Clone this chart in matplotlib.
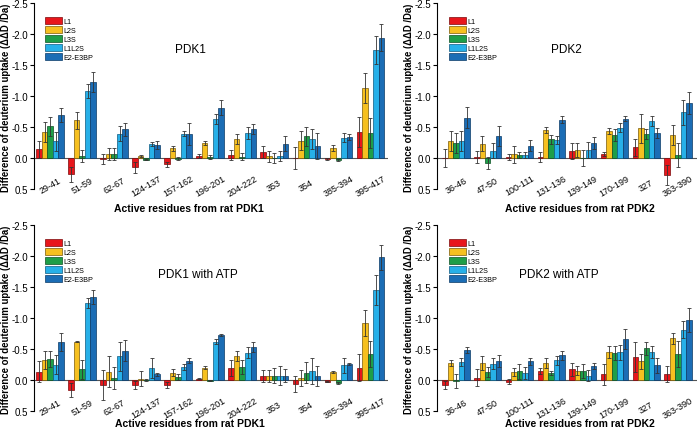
import numpy as np
import matplotlib
matplotlib.use('Agg')
import matplotlib.pyplot as plt

plt.rcParams['font.family'] = ['Liberation Sans', 'DejaVu Sans']

series = ['L1', 'L2S', 'L3S', 'L1L2S', 'E2-E3BP']
colors = ['#e8161b', '#f6c020', '#1e9e48', '#27b0e8', '#1b6db5']
edges = ['#7a0a0c', '#7a5a08', '#0d5024', '#0f5a80', '#0c3a66']

# PDK1 residues
pdk1_res = ['29-41', '51-59', '62-67', '124-137', '157-162', '196-201',
            '204-222', '353', '354', '385-394', '395-417']
# PDK2 residues
pdk2_res = ['36-46', '47-50', '100-111', '131-136', '139-149', '170-199',
            '327', '363-390']

# values (ΔΔD, Da) per series, one entry per residue group
pdk1_val = [
    [-0.14, 0.26, 0.01, 0.15, 0.10, -0.03, -0.05, -0.10, 0.00, 0.02, -0.42],
    [-0.42, -0.61, -0.06, -0.03, -0.16, -0.24, -0.30, -0.03, -0.28, -0.16, -1.13],
    [-0.51, -0.03, -0.06, 0.03, 0.01, -0.02, -0.02, 0.00, -0.35, 0.03, -0.40],
    [-0.27, -1.08, -0.39, -0.23, -0.39, -0.63, -0.40, -0.03, -0.31, -0.33, -1.74],
    [-0.69, -1.22, -0.46, -0.21, -0.39, -0.81, -0.47, -0.23, -0.19, -0.34, -1.94],
]
pdk1_err = [
    [0.14, 0.12, 0.08, 0.09, 0.04, 0.03, 0.08, 0.10, 0.17, 0.02, 0.24],
    [0.16, 0.14, 0.10, 0.02, 0.04, 0.03, 0.08, 0.09, 0.15, 0.05, 0.24],
    [0.15, 0.10, 0.10, 0.01, 0.03, 0.03, 0.06, 0.08, 0.15, 0.02, 0.24],
    [0.15, 0.11, 0.12, 0.03, 0.04, 0.08, 0.10, 0.08, 0.16, 0.07, 0.22],
    [0.11, 0.16, 0.10, 0.06, 0.18, 0.12, 0.08, 0.12, 0.21, 0.05, 0.22],
]

pdk2_val = [
    [0.00, -0.02, -0.02, -0.02, -0.11, -0.06, -0.17, 0.28],
    [-0.28, -0.23, -0.06, -0.45, -0.13, -0.44, -0.48, -0.37],
    [-0.24, 0.08, -0.05, -0.30, 0.00, -0.37, -0.39, -0.05],
    [-0.28, -0.12, -0.05, -0.29, -0.13, -0.49, -0.59, -0.74],
    [-0.65, -0.35, -0.20, -0.62, -0.24, -0.63, -0.41, -0.89],
]
pdk2_err = [
    [0.15, 0.10, 0.05, 0.08, 0.13, 0.03, 0.14, 0.16],
    [0.16, 0.12, 0.14, 0.05, 0.11, 0.05, 0.23, 0.16],
    [0.16, 0.09, 0.05, 0.07, 0.13, 0.10, 0.08, 0.20],
    [0.16, 0.12, 0.05, 0.06, 0.13, 0.07, 0.08, 0.20],
    [0.17, 0.16, 0.09, 0.06, 0.10, 0.04, 0.08, 0.18],
]

pdk1_atp_val = [
    [-0.13, 0.16, 0.08, 0.08, 0.08, -0.02, -0.20, -0.06, 0.07, 0.03, -0.20],
    [-0.32, -0.62, -0.13, -0.02, -0.12, -0.20, -0.38, -0.06, -0.03, -0.13, -0.92],
    [-0.34, -0.17, -0.03, 0.00, -0.05, 0.01, -0.21, -0.07, -0.12, 0.05, -0.42],
    [-0.25, -1.24, -0.38, -0.19, -0.21, -0.62, -0.44, -0.07, -0.14, -0.24, -1.45],
    [-0.61, -1.34, -0.47, -0.09, -0.31, -0.73, -0.53, -0.07, -0.06, -0.26, -1.98],
]
pdk1_atp_err = [
    [0.17, 0.11, 0.24, 0.07, 0.05, 0.01, 0.13, 0.10, 0.13, 0.01, 0.22],
    [0.14, 0.01, 0.25, 0.12, 0.05, 0.03, 0.08, 0.10, 0.13, 0.02, 0.21],
    [0.13, 0.15, 0.18, 0.02, 0.05, 0.01, 0.11, 0.12, 0.17, 0.01, 0.21],
    [0.15, 0.08, 0.23, 0.16, 0.05, 0.04, 0.09, 0.15, 0.21, 0.12, 0.24],
    [0.15, 0.11, 0.17, 0.03, 0.04, 0.02, 0.08, 0.10, 0.16, 0.01, 0.20],
]

pdk2_atp_val = [
    [0.08, -0.04, 0.03, -0.14, -0.17, -0.09, -0.37, -0.10],
    [-0.27, -0.27, -0.13, -0.27, -0.15, -0.45, -0.30, -0.67],
    [0.02, -0.13, -0.14, -0.11, -0.15, -0.44, -0.51, -0.42],
    [-0.29, -0.26, -0.11, -0.32, -0.07, -0.45, -0.45, -0.81],
    [-0.48, -0.31, -0.30, -0.40, -0.23, -0.66, -0.24, -0.97],
]
pdk2_atp_err = [
    [0.07, 0.13, 0.04, 0.05, 0.10, 0.17, 0.24, 0.13],
    [0.05, 0.11, 0.06, 0.08, 0.07, 0.10, 0.12, 0.09],
    [0.11, 0.08, 0.12, 0.03, 0.11, 0.11, 0.10, 0.21],
    [0.06, 0.09, 0.10, 0.07, 0.09, 0.12, 0.10, 0.14],
    [0.05, 0.10, 0.06, 0.07, 0.05, 0.16, 0.12, 0.19],
]

W, H = 697, 435
fig = plt.figure(figsize=(W / 100, H / 100), dpi=100)

panels = [
    # residues, values, errors, title, xlabel, (left, top, right, bottom) px,
    # xlim, title pos px, xlabel pos px, ylabel x px
    (pdk1_res, pdk1_val, pdk1_err, 'PDK1', 'Active residues from rat PDK1',
     (34, 4, 388, 190), (-0.5, 10.55), (190, 50), (189, 209), 6),
    (pdk2_res, pdk2_val, pdk2_err, 'PDK2', 'Active residues from rat PDK2',
     (437, 4, 697, 190), (-0.6, 7.6), (566, 50), (580, 209), 409),
    (pdk1_res, pdk1_atp_val, pdk1_atp_err, 'PDK1 with ATP', 'Active residues from rat PDK1',
     (34, 226, 388, 412), (-0.5, 10.55), (198, 275), (190, 424), 6),
    (pdk2_res, pdk2_atp_val, pdk2_atp_err, 'PDK2 with ATP', 'Active residues from rat PDK2',
     (437, 226, 697, 412), (-0.6, 7.6), (559, 275), (580, 424), 409),
]

width = 0.172
for res, vals, errs, title, xlab, box, xlim, tpos, xlpos, ylx in panels:
    l, t, r, b = box
    ax = fig.add_axes([l / W, 1 - b / H, (r - l) / W, (b - t) / H])
    x = np.arange(len(res))
    for k in range(5):
        ax.bar(x + (k - 2) * width, vals[k], width, color=colors[k],
               edgecolor=edges[k], linewidth=0.5, label=series[k], zorder=2)
        ax.errorbar(x + (k - 2) * width, vals[k], yerr=errs[k], fmt='none',
                    ecolor='#333333', elinewidth=0.6, capsize=1.5, capthick=0.6, zorder=3)
    ax.axhline(0, color='#555555', lw=0.8, zorder=1)
    ax.set_xlim(*xlim)
    ax.set_ylim(0.5, -2.5)
    ax.set_yticks([0.5, 0.0, -0.5, -1.0, -1.5, -2.0, -2.5])
    ax.set_yticklabels(['0.5', '0.0', '-0.5', '-1.0', '-1.5', '-2.0', '-2.5'], fontsize=7)
    ax.tick_params(axis='y', length=3, width=0.8, pad=1.5)
    ax.set_xticks([])
    for s in ['top', 'right', 'bottom']:
        ax.spines[s].set_visible(False)
    ax.spines['left'].set_linewidth(0.8)
    ax.patch.set_alpha(0)
    for i, lab in enumerate(res):
        ax.text(i, 0.44, lab, rotation=30, ha='center', va='center', fontsize=6.5)
    fig.text(tpos[0] / W, 1 - tpos[1] / H, title, ha='center', va='center', fontsize=8.5)
    fig.text(xlpos[0] / W, 1 - xlpos[1] / H, xlab, ha='center', va='center',
             fontsize=7.5, fontweight='bold')
    fig.text(ylx / W, 1 - ((t + b) / 2 + 1) / H, 'Difference of deuterium uptake (ΔΔD /Da)',
             rotation=90, ha='center', va='center', fontsize=6.9, fontweight='bold')
    ax.legend(loc='upper left', bbox_to_anchor=((11 if l < 100 else 12) / (r - l), 0.925),
              frameon=False, fontsize=5.2, handlelength=2.3, handleheight=1.1,
              labelspacing=0.15, handletextpad=0.3, borderaxespad=0, borderpad=0)

fig.savefig('out.png', dpi=100)
